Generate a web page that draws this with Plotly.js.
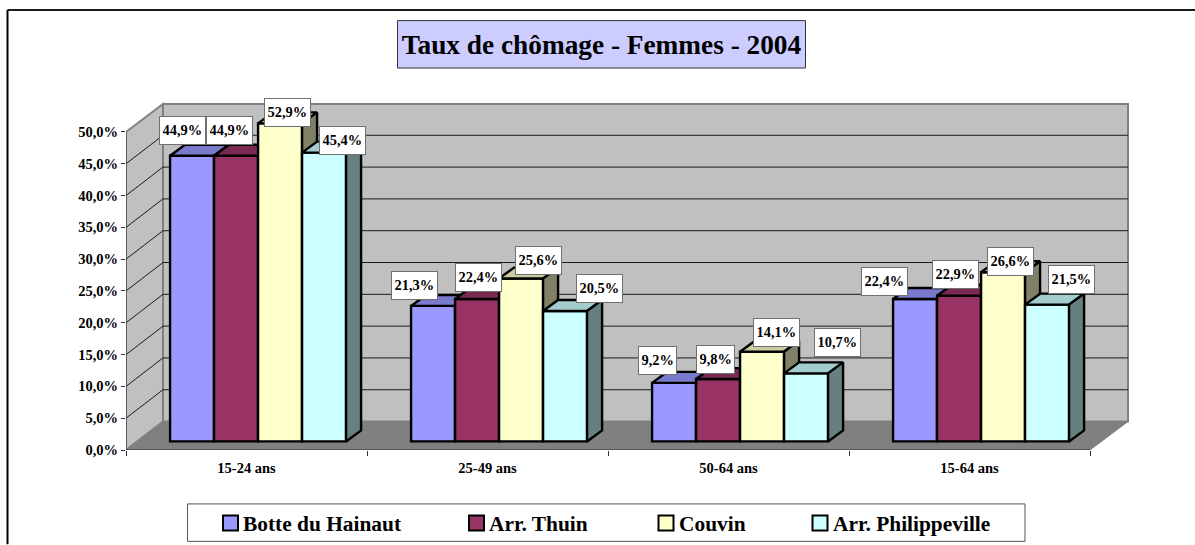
<!DOCTYPE html>
<html>
<head>
<meta charset="utf-8">
<script src="https://cdn.plot.ly/plotly-3.0.1.min.js"></script>
<style>html,body{margin:0;padding:0;background:#fff;overflow:hidden}</style>
</head>
<body>
<div id="chart" style="width:1195px;height:545px"></div>
<script>
// ---- data ----
const categories = ['15-24 ans', '25-49 ans', '50-64 ans', '15-64 ans'];
const botteDuHainaut = [44.9, 21.3, 9.2, 22.4];
const arrThuin = [44.9, 22.4, 9.8, 22.9];
const couvin = [52.9, 25.6, 14.1, 26.6];
const arrPhilippeville = [45.4, 20.5, 10.7, 21.5];
const seriesNames = ['Botte du Hainaut', 'Arr. Thuin', 'Couvin', 'Arr. Philippeville'];
const yTicks = [0, 5, 10, 15, 20, 25, 30, 35, 40, 45, 50];
const yTickLabels = ['0,0%', '5,0%', '10,0%', '15,0%', '20,0%', '25,0%', '30,0%', '35,0%', '40,0%', '45,0%', '50,0%'];
const axisMax = 50; // the value axis stops here: taller bars are cut off at it

// ---- styles ----
const seriesValues = [botteDuHainaut, arrThuin, couvin, arrPhilippeville];
const frontColors = ['#9999FF', '#993366', '#FFFFCC', '#CCFFFF'];
const topColors = ['#7A7ACC', '#7A2952', '#CCCCA3', '#A3CCCC'];
const sideColors = ['#4C4C80', '#4C1933', '#808066', '#668080'];
const FONT = '"Liberation Serif", "Times New Roman", serif';

// label placement, in pixels from the top centre of each bar [series][category]
const labelDx = [[-9.4, -18.5, -16.7, -30.5], [-6.3, 1.5, -3, -4], [7, 17.5, 14, 7.3], [18, 34.5, 31, 24.5]];
const labelDy = [[-25.7, -20.7, -22.5, -17], [-25.7, -21, -19.3, -20.8], [-10.7, -18.4, -19.2, -10.6], [-12.5, -22.3, -30.5, -25]];

// ---- page geometry ----
const W = 1195, H = 545;
const L = 126, R = 1132, T = 96, B = 450.5;
const pxPerCat = 241, pxPerPct = 6.37;
const xMax = (R - L) / pxPerCat, yMax = (B - T) / pxPerPct;
const xWall = (1128 - L) / pxPerCat, yWall = (B - 104) / pxPerPct;
const px = x => (x - L) / (R - L);
const py = y => (B - y) / (B - T);
const wallDx = 37 / pxPerCat, wallDy = 28.5 / pxPerPct;
const barW = 44 / pxPerCat, barBase = 8.6 / pxPerPct, groupShift = 0.548;
const barDx = 15 / pxPerCat, barDy = 11 / pxPerPct;

const center = (g, s) => g + groupShift + (s - 1.5) * barW;
const shown = v => Math.min(v, axisMax);
const fmt = v => v.toFixed(1).replace('.', ',') + '%';

const traces = [];

// wall grid lines, on the base subplot
const gx = [], gy = [];
yTicks.filter(v => v > 0 && v < axisMax).forEach(v => {
  gx.push(0, wallDx, xWall, null);
  gy.push(v, v + wallDy, v + wallDy, null);
});
traces.push({type: 'scatter', mode: 'lines', x: gx, y: gy, line: {color: '#1a1a1a', width: 1},
  hoverinfo: 'skip', showlegend: false, xaxis: 'x', yaxis: 'y'});

// one overlaid subplot per series so that later series paint over earlier ones
seriesValues.forEach((vals, s) => {
  const xa = 'x' + (s + 2), ya = 'y' + (s + 2);
  const tx = [], ty = [], sx = [], sy = [];
  vals.forEach((v, g) => {
    const xl = center(g, s) - barW / 2, xr = xl + barW, top = barBase + shown(v);
    tx.push(xl, xr, xr + barDx, xl + barDx, xl, null);
    ty.push(top, top, top + barDy, top + barDy, top, null);
    sx.push(xr, xr + barDx, xr + barDx, xr, xr, null);
    sy.push(barBase, barBase + barDy, top + barDy, top, barBase, null);
  });
  const outline = {color: '#000', width: 2.4};
  traces.push({type: 'bar', name: seriesNames[s], x: vals.map((_, g) => center(g, s)), y: vals.map(shown),
    base: barBase, width: barW, marker: {color: frontColors[s], line: {color: '#000', width: 2.4}},
    customdata: categories.map((c, g) => c + ': ' + fmt(vals[g])), hovertemplate: '%{customdata}<extra>' + seriesNames[s] + '</extra>',
    showlegend: false, xaxis: xa, yaxis: ya});
  traces.push({type: 'scatter', mode: 'lines', x: tx, y: ty, fill: 'toself', fillcolor: topColors[s],
    line: outline, hoverinfo: 'skip', showlegend: false, xaxis: xa, yaxis: ya});
  traces.push({type: 'scatter', mode: 'lines', x: sx, y: sy, fill: 'toself', fillcolor: sideColors[s],
    line: outline, hoverinfo: 'skip', showlegend: false, xaxis: xa, yaxis: ya});
});

// ---- shapes ----
const poly = pts => 'M' + pts.map(p => p.join(',')).join('L') + 'Z';
const shapes = [
  // walls and floor
  {type: 'path', layer: 'below', xref: 'x', yref: 'y', path: poly([[wallDx, wallDy], [xWall, wallDy], [xWall, yWall], [wallDx, yWall]]),
    fillcolor: '#C0C0C0', line: {color: '#808080', width: 2}},
  {type: 'path', layer: 'below', xref: 'x', yref: 'y', path: poly([[0, 0], [wallDx, wallDy], [wallDx, yWall], [0, axisMax]]),
    fillcolor: '#C0C0C0', line: {color: '#808080', width: 2}},
  {type: 'path', layer: 'below', xref: 'x', yref: 'y', path: poly([[0, 0], [categories.length, 0], [xWall, wallDy], [wallDx, wallDy]]),
    fillcolor: '#808080', line: {color: '#808080', width: 1}},
  // axis lines
  {type: 'line', layer: 'above', xref: 'x', yref: 'y', x0: 0, x1: 0, y0: 0, y1: axisMax, line: {color: '#404040', width: 1}},
  {type: 'line', layer: 'above', xref: 'x', yref: 'y', x0: 0, x1: categories.length, y0: 0, y1: 0, line: {color: '#202020', width: 1}},
  // page frame
  {type: 'line', xref: 'paper', yref: 'paper', x0: px(7.5), x1: px(1195), y0: py(10), y1: py(10), line: {color: '#1a1a1a', width: 2}},
  {type: 'line', xref: 'paper', yref: 'paper', x0: px(7.5), x1: px(7.5), y0: py(10), y1: py(545), line: {color: '#000', width: 2}},
  // title box
  {type: 'rect', layer: 'below', xref: 'paper', yref: 'paper', x0: px(397.5), x1: px(805.5), y0: py(68), y1: py(20.5),
    fillcolor: '#CCCCFF', line: {color: '#333', width: 1}},
  // legend box
  {type: 'rect', xref: 'paper', yref: 'paper', x0: px(187.5), x1: px(1025), y0: py(542), y1: py(504.5),
    fillcolor: '#fff', line: {color: '#555', width: 1}}
];

// ---- legend (hand placed to follow the uneven spacing of the reference) ----
const legendSwatchX = [223, 469, 658.5, 812.5];
const legendTextX = [242, 487.5, 677.5, 831.5];
seriesNames.forEach((n, s) => {
  shapes.push({type: 'rect', xref: 'paper', yref: 'paper', x0: px(legendSwatchX[s]), x1: px(legendSwatchX[s] + 15),
    y0: py(531), y1: py(516), fillcolor: frontColors[s], line: {color: '#000', width: 2}});
});

// ---- annotations ----
const annotations = [];
seriesValues.forEach((vals, s) => {
  vals.forEach((v, g) => {
    annotations.push({xref: 'x', yref: 'y', x: center(g, s), y: barBase + shown(v), showarrow: false,
      xshift: labelDx[s][g], yshift: -labelDy[s][g],
      text: fmt(v), bgcolor: '#fff', bordercolor: '#707070', borderwidth: 1,
      borderpad: 2.5, height: 21.5,
      font: {family: FONT, size: 14.4, color: '#000', weight: 'bold'}});
  });
});
seriesNames.forEach((n, s) => {
  annotations.push({xref: 'paper', yref: 'paper', x: px(legendTextX[s]), y: py(524.5), xanchor: 'left', yanchor: 'middle',
    showarrow: false, text: n, borderpad: 0, font: {family: FONT, size: 21.4, color: '#000', weight: 'bold'}});
});

// ---- layout ----
const layout = {
  width: W, height: H,
  margin: {l: L, r: W - R, t: T, b: H - B, pad: 0},
  paper_bgcolor: '#fff', plot_bgcolor: 'rgba(0,0,0,0)',
  barmode: 'overlay', showlegend: false,
  title: {text: 'Taux de chômage - Femmes - 2004', xref: 'container', yref: 'container',
    x: 601.5 / W, y: 1 - 44.5 / H, xanchor: 'center', yanchor: 'middle',
    font: {family: FONT, size: 27.3, color: '#000', weight: 'bold'}},
  xaxis: {type: 'linear', range: [0, xMax], fixedrange: true, showgrid: false, zeroline: false, showline: false,
    tickmode: 'array', tickvals: categories.map((_, g) => g + 0.5), ticktext: categories, ticks: '', ticklabelstandoff: 7,
    tickfont: {family: FONT, size: 14.5, color: '#000', weight: 'bold'},
    minor: {tickmode: 'array', tickvals: [0, 1, 2, 3, 4], ticks: 'outside', ticklen: 5, tickwidth: 1, tickcolor: '#333', showgrid: false}},
  yaxis: {type: 'linear', range: [0, yMax], fixedrange: true, showgrid: false, zeroline: false, showline: false,
    tickmode: 'array', tickvals: yTicks, ticktext: yTickLabels, ticks: 'outside', ticklen: 4, tickwidth: 1, tickcolor: '#333',
    tickfont: {family: FONT, size: 14.5, color: '#000', weight: 'bold'}},
  shapes, annotations
};
seriesValues.forEach((_, s) => {
  layout['xaxis' + (s + 2)] = {type: 'linear', overlaying: 'x', range: [0, xMax], fixedrange: true, visible: false};
  layout['yaxis' + (s + 2)] = {type: 'linear', overlaying: 'y', range: [0, yMax], fixedrange: true, visible: false};
});

Plotly.newPlot('chart', traces, layout, {displayModeBar: false});
</script>
</body>
</html>
